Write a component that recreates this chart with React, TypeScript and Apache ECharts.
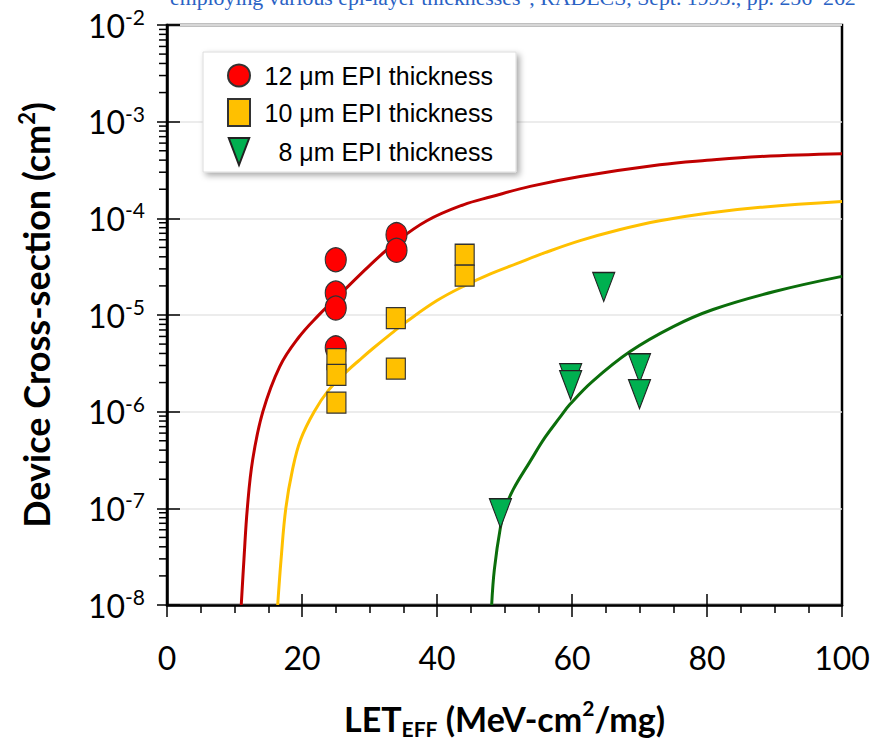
import React, { useEffect, useRef } from 'react';
import * as echarts from 'echarts';

// ---- data ----
const xTickValues = [0, 20, 40, 60, 80, 100];
const yDecades = [1e-8, 1e-7, 1e-6, 1e-5, 1e-4, 1e-3, 1e-2];
const minorMantissas = [2, 3, 4, 5, 6, 7, 8, 9];

const seriesNames = ['12 μm EPI thickness', '10 μm EPI thickness', '8 μm EPI thickness'];

// measured points [LET_eff, cross-section]
const epi12Points = [
  [25, 3.73e-5], [25, 1.69e-5], [25, 1.18e-5], [25, 4.57e-6],
  [34, 6.78e-5], [34, 4.67e-5],
];
const epi10Points = [
  [25.1, 3.5e-6], [25.1, 2.4e-6], [25.1, 1.24e-6],
  [33.9, 9.3e-6], [33.9, 2.79e-6],
  [44.1, 4.2e-5], [44.1, 2.55e-5],
];
const epi8Points = [
  [49.4, 8.9e-8], [59.8, 2.22e-6], [59.8, 1.88e-6],
  [64.7, 1.95e-5], [70, 2.81e-6], [70, 1.52e-6],
];

// fitted curves
const epi12Fit = [
  [11.0, 1e-8], [11.4, 2.97e-8], [11.9, 1e-7], [12.7, 3.21e-7], [14.2, 1.0e-6],
  [16.7, 2.93e-6], [19.5, 5.85e-6], [22.4, 9.86e-6], [25, 1.48e-5], [30, 3.24e-5],
  [34, 5.73e-5], [38.5, 9.44e-5], [43.9, 1.38e-4], [48, 1.67e-4], [53.8, 2.14e-4],
  [61.2, 2.71e-4], [73, 3.58e-4], [80, 3.98e-4], [87.9, 4.36e-4], [100, 4.65e-4],
];
const epi10Fit = [
  [16.4, 1e-8], [16.9, 2.97e-8], [17.6, 1e-7], [18.6, 2.53e-7], [19.8, 5.16e-7],
  [21.8, 1.0e-6], [24, 1.69e-6], [26.6, 2.6e-6], [28.6, 3.46e-6], [30.5, 4.5e-6],
  [33.3, 6.5e-6], [35.5, 8.55e-6], [40, 1.41e-5], [43.9, 1.98e-5], [48, 2.68e-5],
  [51.8, 3.4e-5], [56, 4.41e-5], [61.2, 5.88e-5], [67, 7.62e-5], [73, 9.44e-5],
  [80, 1.13e-4], [87.9, 1.3e-4], [100, 1.49e-4],
];
const epi8Fit = [
  [48.1, 1e-8], [48.5, 2.34e-8], [49.4, 6.37e-8], [50.1, 1.0e-7], [51.3, 1.57e-7],
  [53.8, 3.06e-7], [56, 5.41e-7], [58.2, 8.71e-7], [59.7, 1.19e-6], [63, 2.05e-6],
  [68.6, 4.19e-6], [75, 7.59e-6], [80.9, 1.14e-5], [90, 1.75e-5], [100, 2.51e-5],
];

const topNote = 'employing various epi-layer thicknesses", RADECS, Sept. 1993., pp. 256–262';

const TRI = 'path://M0,0L22,0L11,29Z';

export default function App() {
  const ref = useRef<HTMLDivElement>(null);

  useEffect(() => {
    if (!ref.current) return;
    const chart = echarts.init(ref.current, null, { renderer: 'svg' });

    const minorTicks: number[][] = [];
    yDecades.slice(0, -1).forEach((d) => minorMantissas.forEach((m) => minorTicks.push([0, m * d])));

    const labelFont = 'Lato';
    const axisBlack = '#000';

    const fitLine = (name: string, data: number[][], color: string) => ({
      type: 'line', name, data, showSymbol: false, smooth: 0.4,
      lineStyle: { color, width: 3 }, silent: true, z: 2,
    });

    const option: any = {
      animation: false,
      backgroundColor: '#fff',
      grid: {
        left: 167, right: 39, top: 25, bottom: 138,
        show: true, borderColor: '#000', borderWidth: 2.5, backgroundColor: 'transparent',
      },
      graphic: [
        {
          type: 'text', x: 170, y: 9,
          style: {
            text: topNote, fill: '#2a62c4', font: '21.8px "Liberation Serif", "DejaVu Serif", serif',
            verticalAlign: 'bottom', align: 'left',
          },
        },
      ],
      legend: {
        orient: 'vertical', left: 203, top: 52,
        data: [
          { name: seriesNames[0], icon: 'circle' },
          { name: seriesNames[1], icon: 'rect' },
          { name: seriesNames[2], icon: TRI },
        ],
        itemWidth: 22, itemHeight: 27, itemGap: 10,
        padding: [11, 23, 6, 24],
        backgroundColor: '#fff', borderColor: '#dcdcdc', borderWidth: 1,
        shadowBlur: 6, shadowColor: 'rgba(0,0,0,0.35)', shadowOffsetX: 3, shadowOffsetY: 3,
        selectedMode: false,
        formatter: (name: string) => `{a|${name}}`,
        textStyle: {
          rich: {
            a: { width: 238, align: 'right', fontSize: 25, color: '#000', fontFamily: '"Liberation Sans", Arial, sans-serif' },
          },
        },
      },
      xAxis: [
        {
          type: 'value', min: xTickValues[0], max: xTickValues[xTickValues.length - 1], interval: 20,
          position: 'bottom',
          axisLine: { show: true, onZero: false, lineStyle: { color: axisBlack, width: 2.5 } },
          axisTick: { show: true, length: 12, lineStyle: { color: axisBlack, width: 1.5 } },
          minorTick: { show: true, splitNumber: 4, length: 8, lineStyle: { color: axisBlack, width: 1.5 } },
          axisLabel: { margin: 36, fontSize: 32, fontFamily: labelFont, color: '#000' },
          splitLine: { show: false },
          name: '{t|LET}{u|EFF}{t| (MeV-cm}{s|2}{t|/mg)}',
          nameLocation: 'middle', nameGap: 92,
          nameTextStyle: {
            rich: {
              t: { fontSize: 34, fontWeight: 'bold', fontFamily: labelFont, color: '#000', lineHeight: 42 },
              u: { fontSize: 21, fontWeight: 'bold', fontFamily: labelFont, color: '#000', lineHeight: 20, verticalAlign: 'bottom' },
              s: { fontSize: 21, fontWeight: 'bold', fontFamily: labelFont, color: '#000', lineHeight: 20, verticalAlign: 'top' },
            },
          },
        },
        {
          type: 'value', min: 0, max: 100, interval: 20, position: 'bottom',
          axisLine: { show: false, onZero: false },
          axisTick: { show: true, inside: true, length: 11, lineStyle: { color: axisBlack, width: 1.5 } },
          axisLabel: { show: false }, splitLine: { show: false },
        },
      ],
      yAxis: [
        {
          type: 'log', logBase: 10, min: yDecades[0], max: yDecades[yDecades.length - 1], splitNumber: 6,
          position: 'left',
          axisLine: { show: true, onZero: false, lineStyle: { color: axisBlack, width: 2.5 } },
          axisTick: { show: true, length: 10, lineStyle: { color: axisBlack, width: 1.5 } },
          axisLabel: {
            margin: 22,
            formatter: (v: number) => `{b|10}{s|${Math.round(Math.log10(v))}}`,
            rich: {
              b: { fontSize: 32, fontFamily: labelFont, color: '#000', lineHeight: 38 },
              s: { fontSize: 21, fontFamily: labelFont, color: '#000', lineHeight: 14, verticalAlign: 'top' },
            },
          },
          splitLine: { show: true, lineStyle: { color: '#e6e6e6', width: 1.5 } },
          name: '{t|Device Cross-section (cm}{s|2}{t|)}',
          nameLocation: 'middle', nameRotate: 90, nameGap: 110,
          nameTextStyle: {
            rich: {
              t: { fontSize: 36, fontWeight: 'bold', fontFamily: labelFont, color: '#000', lineHeight: 42 },
              s: { fontSize: 22, fontWeight: 'bold', fontFamily: labelFont, color: '#000', lineHeight: 20, verticalAlign: 'top' },
            },
          },
        },
        {
          type: 'log', logBase: 10, min: yDecades[0], max: yDecades[yDecades.length - 1], splitNumber: 6,
          position: 'left',
          axisLine: { show: false, onZero: false },
          axisTick: { show: true, inside: true, length: 13, lineStyle: { color: axisBlack, width: 1.5 } },
          axisLabel: { show: false }, splitLine: { show: false },
        },
      ],
      series: [
        {
          type: 'custom', name: 'minorTicks', xAxisIndex: 0, yAxisIndex: 0, silent: true, clip: false, z: 4,
          data: minorTicks, encode: { x: 0, y: 1 },
          renderItem: (params: any, api: any) => {
            const p = api.coord([0, api.value(1)]);
            return {
              type: 'line',
              shape: { x1: p[0] - 8, y1: p[1], x2: p[0], y2: p[1] },
              style: { stroke: '#000', lineWidth: 1.5 },
            };
          },
        },
        fitLine('fit12', epi12Fit, '#c00000'),
        fitLine('fit10', epi10Fit, '#ffc000'),
        fitLine('fit8', epi8Fit, '#0b6e0b'),
        {
          type: 'scatter', name: seriesNames[0], data: epi12Points, symbol: 'circle', symbolSize: [21, 24],
          itemStyle: { color: '#ff0000', borderColor: '#333', borderWidth: 1.2, opacity: 1 }, z: 3,
        },
        {
          type: 'scatter', name: seriesNames[1], data: epi10Points, symbol: 'rect', symbolSize: [19, 21],
          itemStyle: { color: '#ffc000', borderColor: '#333', borderWidth: 1.2, opacity: 1 }, z: 3,
        },
        {
          type: 'scatter', name: seriesNames[2], data: epi8Points, symbol: TRI, symbolSize: [22, 29],
          itemStyle: { color: '#00b050', borderColor: '#222', borderWidth: 1.2, opacity: 1 }, z: 3,
        },
      ],
    };

    chart.setOption(option);
    return () => chart.dispose();
  }, []);

  return (
    <div
      ref={ref}
      style={{ position: 'absolute', left: 0, top: 0, width: 881, height: 744, background: '#fff' }}
    />
  );
}
